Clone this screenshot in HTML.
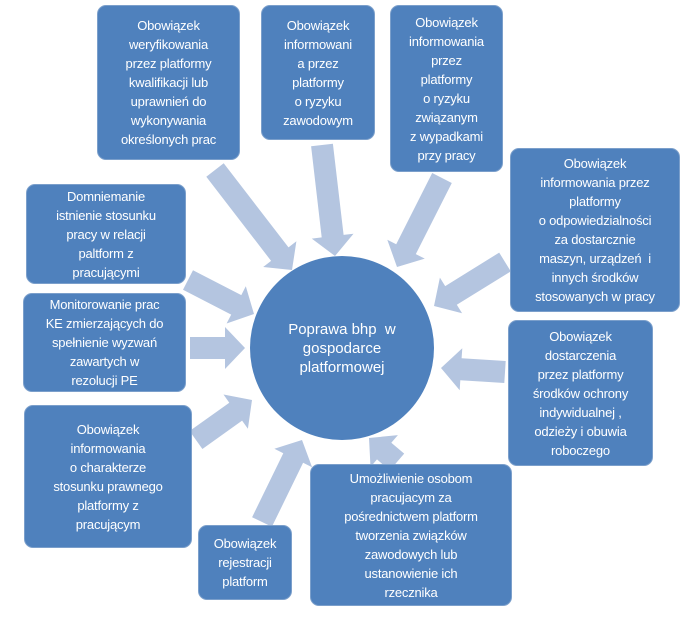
<!DOCTYPE html>
<html><head><meta charset="utf-8"><style>
body{margin:0;width:700px;height:629px;background:#fff;position:relative;overflow:hidden;font-family:"Liberation Sans",sans-serif}
.b{position:absolute;background:#4f81bd;border-radius:9px;color:#fff;font-size:13px;line-height:19px;text-align:center;display:flex;align-items:center;justify-content:center;box-sizing:border-box;padding:2px 1px;border:1px solid #7b9fcb;white-space:nowrap;letter-spacing:-0.2px}
.c{position:absolute;left:250px;top:256px;width:184px;height:184px;border-radius:50%;background:#4f81bd;color:#fff;font-size:15px;line-height:19px;text-align:center;display:flex;align-items:center;justify-content:center}
svg{position:absolute;left:0;top:0}
</style></head><body>
<svg width="700" height="629" id="s"></svg>
<div class="b" style="left:97px;top:5px;width:143px;height:155px">Obowiązek<br>weryfikowania<br>przez platformy<br>kwalifikacji lub<br>uprawnień do<br>wykonywania<br>określonych prac</div>
<div class="b" style="left:261px;top:5px;width:114px;height:135px">Obowiązek<br>informowani<br>a przez<br>platformy<br>o ryzyku<br>zawodowym</div>
<div class="b" style="left:390px;top:5px;width:113px;height:167px">Obowiązek<br>informowania<br>przez<br>platformy<br>o ryzyku<br>związanym<br>z wypadkami<br>przy pracy</div>
<div class="b" style="left:510px;top:148px;width:170px;height:164px">Obowiązek<br>informowania przez<br>platformy<br>o odpowiedzialności<br>za dostarcznie<br>maszyn, urządzeń&nbsp; i<br>innych środków<br>stosowanych w pracy</div>
<div class="b" style="left:508px;top:320px;width:145px;height:146px">Obowiązek<br>dostarczenia<br>przez platformy<br>środków ochrony<br>indywidualnej ,<br>odzieży i obuwia<br>roboczego</div>
<div class="b" style="left:310px;top:464px;width:202px;height:142px">Umożliwienie osobom<br>pracujacym za<br>pośrednictwem platform<br>tworzenia związków<br>zawodowych lub<br>ustanowienie ich<br>rzecznika</div>
<div class="b" style="left:198px;top:525px;width:94px;height:75px">Obowiązek<br>rejestracji<br>platform</div>
<div class="b" style="left:24px;top:405px;width:168px;height:143px">Obowiązek<br>informowania<br>o charakterze<br>stosunku prawnego<br>platformy z<br>pracującym</div>
<div class="b" style="left:23px;top:293px;width:163px;height:99px">Monitorowanie prac<br>KE zmierzających do<br>spełnienie wyzwań<br>zawartych w<br>rezolucji PE</div>
<div class="b" style="left:26px;top:184px;width:160px;height:100px">Domniemanie<br>istnienie stosunku<br>pracy w relacji<br>paltform z<br>pracującymi</div>
<div class="c">Poprawa bhp&nbsp; w<br>gospodarce<br>platformowej</div>
<script>
var A=[[215,170,292,270],[322,145,335,256],[442,178,397,267],[505,262,434,306],[505,372,441,368],[397,462,369,438],[262,522,302,440],[196,440,252,400],[190,348,245,348],[188,280,254,314]];
var s='';A.forEach(function(a){var dx=a[2]-a[0],dy=a[3]-a[1],L=Math.hypot(dx,dy),ux=dx/L,uy=dy/L,px=-uy,py=ux,w=11,h=21,hl=Math.min(20,L*0.55);
var bx=a[2]-ux*hl,by=a[3]-uy*hl;
var p=[[a[0]+px*w,a[1]+py*w],[bx+px*w,by+py*w],[bx+px*h,by+py*h],[a[2],a[3]],[bx-px*h,by-py*h],[bx-px*w,by-py*w],[a[0]-px*w,a[1]-py*w]];
s+='<polygon fill="#b4c5e0" points="'+p.map(function(q){return q[0].toFixed(1)+','+q[1].toFixed(1)}).join(' ')+'"/>';});
document.getElementById('s').innerHTML=s;
</script>
</body></html>
